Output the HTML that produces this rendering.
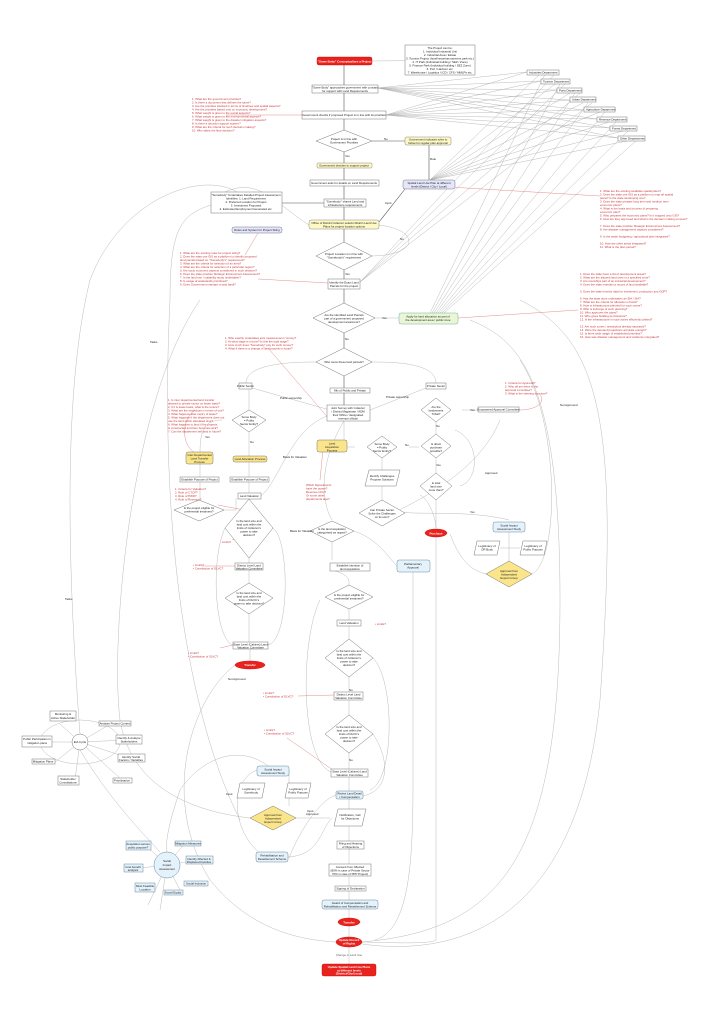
<!DOCTYPE html>
<html><head><meta charset="utf-8"><style>
html,body{margin:0;padding:0;background:#fff}
svg{display:block}
text{font-family:"Liberation Sans",sans-serif;font-size:2.9px;fill:#222}
.r text,text.r{fill:#c8383c}
.b{fill:#fff;stroke:#777;stroke-width:.5}
.y{fill:#fbe58a;stroke:#777;stroke-width:.5}
.ly{fill:#fdf8c4;stroke:#888;stroke-width:.5}
.lb{fill:#e3f2fb;stroke:#6a8aa0;stroke-width:.5}
.lv{fill:#e5e6fa;stroke:#778;stroke-width:.5}
.lg{fill:#eaf7d6;stroke:#7a9;stroke-width:.5}
.red{fill:#e8231e;stroke:#c00;stroke-width:.4}
.l{fill:none;stroke:#aaa;stroke-width:.4}
.d{fill:none;stroke:#555;stroke-width:.6}
.rl{fill:none;stroke:#e07070;stroke-width:.4}
.w{fill:#fff;font-weight:bold}
</style></head><body>
<svg width="722" height="1023" viewBox="0 0 722 1023" xmlns="http://www.w3.org/2000/svg">
<g class="l">
<path d="M527 72L378 88M541 81L378 88M557 90L378 88M570 100L378 88M584 110L378 88M597 119L378 88M610 128L378 88M618 138L378 88"/>
<path d="M527 72L386 115M541 81L386 115M557 90L386 115M570 100L386 115M584 110L386 115M597 119L386 115M610 128L386 115M618 138L386 115"/>
<path d="M540 74L430 180M555 84L430 180M570 93L430 180M583 103L430 180M600 112L430 180M612 121L430 180M623 131L430 180M632 140L430 180"/>
<path d="M545 74L430 313M560 84L432 313M575 93L434 313M588 103L436 313M605 112L438 313M617 121L440 313M628 131L442 313M637 140L444 313"/>
<path d="M555 74L360 282M565 84L360 282M580 93L360 282M592 103L360 282"/>
<path d="M475 60L372 61"/>
</g>
<g>
<rect class="b" x="527" y="70" width="32" height="5"/><text x="529" y="73.5">Industries Department</text>
<rect class="b" x="541" y="79" width="29" height="5"/><text x="543" y="82.5">Tourism Department</text>
<rect class="b" x="557" y="88" width="25" height="5"/><text x="559" y="91.5">Ports Department</text>
<rect class="b" x="570" y="97" width="26" height="5"/><text x="572" y="100.5">Urban Department</text>
<rect class="b" x="584" y="107" width="31" height="5"/><text x="586" y="110.5">Agriculture Department</text>
<rect class="b" x="597" y="117" width="30" height="5"/><text x="599" y="120.5">Revenue Department</text>
<rect class="b" x="610" y="126" width="27" height="5"/><text x="612" y="129.5">Forest Department</text>
<rect class="b" x="618" y="136" width="27" height="5"/><text x="620" y="139.5">Other Departments</text>
</g>
<g class="d">
<path d="M344 65V85M344 93V111M344 119V130M344 152V163M344 168V180M344 185V199M344 207V220M344 229V242M344 270V279M344 289V303M344 333V348M344 376V388M344 393V405"/>
<path d="M372 141H405M429 145V180M282 203H324M405 189L379 222"/>
</g>
<g class="l">
<path d="M344 421V440"/>
<path d="M372 256C420 255 420 230 379 225"/>
<path d="M316 362C300 362 246 362 246 383M372 362C390 362 436 362 436 383"/>
<path d="M252 388L330 410M426 388L370 410"/>
<path d="M375 318H399"/>
<path d="M249 389V410M249 430V457M249 462V477M249 481V494M222 420C205 420 200 430 200 452M200 464V477M200 481V500M224 510H236V498M249 499V500"/>
<path d="M249 506V498M249 558V563M249 570V583M249 614V642M250 648V661"/>
<path d="M273 528C290 540 290 640 268 645M225 528C210 560 215 640 233 645"/>
<path d="M327 416C290 430 280 480 261 496"/>
<path d="M344 421C320 460 320 500 332 520M332 542V560M332 570C350 575 349 580 349 585M349 609V621M349 625V639M349 677V692M349 699V715M349 753V769M349 777V791M349 799V809M349 826V841M349 849V864M349 876V886M349 891V900M349 908V918M349 926V937M349 947V964"/>
<path d="M373 658C395 680 395 780 370 790M373 734C390 760 390 790 363 796M320 600C300 640 300 760 331 772"/>
<path d="M354 531C380 540 390 560 397 566M413 572V780C413 860 410 930 375 940"/>
<path d="M436 418V436M409 447H419M462 410H478M436 456V475M436 497V528M355 447H347M382 457V470M382 486V500M395 512C420 500 480 470 500 420M460 486C480 480 480 440 455 430M436 536V940C430 945 375 942 362 942"/>
<path d="M420 495C430 500 436 520 436 528M400 512C420 515 470 510 509 520M509 532V561M500 548H520M486 574C470 570 460 560 450 534M532 574C560 560 560 420 520 360"/>
<path d="M470 320C520 340 560 380 560 600C560 860 500 930 362 942"/>
<path d="M520 300C600 340 620 420 600 700C580 900 480 960 362 944"/>
<path d="M309 225C270 200 255 170 211 200M211 205C180 215 170 230 170 300C160 500 180 700 240 820M237 192C200 170 120 200 90 280C60 400 70 600 80 734"/>
<path d="M273 818H330M289 770V806M257 770C230 780 230 830 262 855M288 857C320 855 320 830 332 818M289 858C300 830 320 800 336 795"/>
<path d="M235 665C190 700 160 800 210 880C250 930 300 940 336 942"/>
<path d="M250 818C180 810 130 780 120 720C110 640 130 400 200 300"/>
<path d="M273 770C240 740 200 760 180 790C170 820 165 840 167 852"/>
<path d="M80 750C110 800 140 830 160 852"/>
</g>
<g class="l">
<ellipse cx="80" cy="742" rx="40" ry="22"/>
<path d="M80 742L60 724M80 742L112 723M80 742L128 740M80 742L132 759M80 742L122 780M80 742L75 780M80 742L55 762M80 742L30 742"/>
<path d="M167 865L145 845M167 865L185 843M167 865L200 860M167 865L180 890M167 865L160 910M167 865L148 905M167 865L140 868"/>
</g>
<circle cx="80" cy="742" r="8" class="b"/><text x="80" y="743" text-anchor="middle">EIA Cycle</text>
<g>
<rect class="b" x="50" y="711" width="26" height="10"/><text x="63" y="715" text-anchor="middle">Monitoring &amp;</text><text x="63" y="719" text-anchor="middle">Active Stakeholder</text>
<rect class="b" x="99" y="721" width="32" height="5"/><text x="115" y="724.5" text-anchor="middle">Analyse Project Context</text>
<rect class="b" x="116" y="735" width="26" height="9"/><text x="129" y="739" text-anchor="middle">Identify &amp; Analyse</text><text x="129" y="742.5" text-anchor="middle">Stakeholders</text>
<rect class="b" x="22" y="736" width="30" height="11"/><text x="37" y="740" text-anchor="middle">Public Participation in</text><text x="37" y="744" text-anchor="middle">mitigation plans</text>
<rect class="b" x="118" y="754" width="27" height="8"/><text x="131" y="758" text-anchor="middle">Identify Social</text><text x="131" y="761" text-anchor="middle">Factors / Variables</text>
<rect class="b" x="32" y="759" width="23" height="5"/><text x="43" y="762.5" text-anchor="middle">Mitigation Plans</text>
<rect class="b" x="58" y="776" width="21" height="9"/><text x="68" y="780" text-anchor="middle">Stakeholder</text><text x="68" y="783.5" text-anchor="middle">Consultations</text>
<rect class="b" x="113" y="778" width="19" height="5"/><text x="122" y="781.5" text-anchor="middle">Prioritisation</text>
</g>
<circle cx="167" cy="865" r="13" class="lb"/><text x="167" y="862" text-anchor="middle">Social</text><text x="167" y="866" text-anchor="middle">Impact</text><text x="167" y="870" text-anchor="middle">Assessment</text>
<g>
<rect class="lb" x="126" y="841" width="25" height="9"/><text x="138" y="845" text-anchor="middle">Acquisition serves</text><text x="138" y="848.5" text-anchor="middle">public purpose?</text>
<rect class="lb" x="175" y="841" width="26" height="5"/><text x="188" y="844.5" text-anchor="middle">Mitigation Measures</text>
<rect class="lb" x="186" y="856" width="27" height="8"/><text x="199" y="860" text-anchor="middle">Identify Affected &amp;</text><text x="199" y="863" text-anchor="middle">Displaced Families</text>
<rect class="lb" x="124" y="864" width="19" height="8"/><text x="133" y="868" text-anchor="middle">Cost benefit</text><text x="133" y="871" text-anchor="middle">analysis</text>
<rect class="lb" x="184" y="881" width="24" height="5"/><text x="196" y="884.5" text-anchor="middle">Social Inclusion</text>
<rect class="lb" x="135" y="883" width="20" height="9"/><text x="145" y="887" text-anchor="middle">Most Feasible</text><text x="145" y="890.5" text-anchor="middle">Location</text>
<rect class="lb" x="164" y="890" width="19" height="5"/><text x="173" y="893.5" text-anchor="middle">Social Equity</text>
</g>
<g class="rl">
<path d="M302 115L226 115M432 186L600 196M458 318L578 310M328 283L258 279M330 420L268 348M244 510L218 505M249 535L232 540M235 566L202 566M233 645L220 648M334 695L298 696M333 770L287 738M323 449L320 480M519 410C540 410 545 400 540 395M258 233L245 255M203 456C180 452 180 420 195 410"/>
</g>
<rect class="red" x="317" y="57" width="55" height="8" rx="2"/><text class="w" x="344.5" y="62.3" text-anchor="middle" style="fill:#fff">"Some Body" Conceptualises a Project</text>
<rect class="b" x="405" y="45" width="70" height="30"/>
<g text-anchor="middle"><text x="440" y="49">The Project can be:</text><text x="440" y="52.5">1. Individual Industrial Unit</text><text x="440" y="56">2. Industrial Area / Estate</text><text x="440" y="59.5">3. Tourism Project (hotel/resort/amusement park etc.)</text><text x="440" y="63">4. IT Park (Individual building / SEZ / Zone)</text><text x="440" y="66.5">5. Finance Park (Individual building / SEZ Zone)</text><text x="440" y="70">6. Port / Harbour etc.</text><text x="440" y="73.5">7. Warehouse / Logistics / ICD / CFS / MMLPs etc.</text></g>
<rect class="b" x="312" y="85" width="66" height="8"/><text x="345" y="88.5" text-anchor="middle">"Some Body" approaches government with concept</text><text x="345" y="91.8" text-anchor="middle">for support with Land Requirements</text>
<rect class="b" x="302" y="111" width="84" height="8"/><text x="344" y="116" text-anchor="middle">Government checks if proposed Project is in line with its priorities</text>
<polygon class="b" points="344,130 372,141 344,152 316,141"/><text x="344" y="140" text-anchor="middle">Project is in line with</text><text x="344" y="143.5" text-anchor="middle">Government Priorities</text>
<rect class="ly" x="405" y="137" width="46" height="8" rx="1.5"/><text x="428" y="140.5" text-anchor="middle">Government indicates rules to</text><text x="428" y="143.8" text-anchor="middle">follow for regular plan approval</text>
<rect class="ly" x="317" y="163" width="55" height="5" rx="1"/><text x="344" y="166.5" text-anchor="middle">Government decides to support project</text>
<rect class="b" x="310" y="180" width="69" height="6"/><text x="344" y="184" text-anchor="middle">Government asks for details on Land Requirements</text>
<rect class="lv" x="403" y="180" width="52" height="9" rx="2"/><text x="429" y="184" text-anchor="middle">Spatial Land Use Plan at different</text><text x="429" y="187.5" text-anchor="middle">levels (District / City / Local)</text>
<rect class="b" x="211" y="192" width="71" height="21"/>
<g text-anchor="middle"><text x="246" y="196">"Somebody" Undertakes Detailed Project Assessment</text><text x="246" y="199.5">Identifies: 1. Land Requirement</text><text x="246" y="203">2. Preferred Location for Project</text><text x="246" y="206.5">3. Investment Proposed</text><text x="246" y="210">4. Estimated Employment Generated etc.</text></g>
<rect class="b" x="324" y="199" width="42" height="8"/><text x="345" y="202.5" text-anchor="middle">"Somebody" shares Land and</text><text x="345" y="206" text-anchor="middle">infrastructure requirements</text>
<rect class="ly" x="309" y="220" width="70" height="9" rx="2"/><text x="344" y="224" text-anchor="middle">Office of District Collector selects District Land Use</text><text x="344" y="227.5" text-anchor="middle">Plans for project location options</text>
<rect class="lv" x="232" y="227" width="50" height="6" rx="2"/><text x="257" y="231" text-anchor="middle">Rules and System for Project Siting</text>
<polygon class="b" points="344,242 372,256 344,270 316,256"/><text x="344" y="255" text-anchor="middle">Project Location is in line with</text><text x="344" y="258.5" text-anchor="middle">"Somebody's" requirement</text>
<rect class="b" x="328" y="279" width="32" height="10"/><text x="344" y="283.5" text-anchor="middle">Identify the Exact Land</text><text x="344" y="287" text-anchor="middle">Parcels for the project</text>
<polygon class="b" points="344,303 375,318 344,333 313,318"/><text x="344" y="316" text-anchor="middle">Are the identified Land Parcels</text><text x="344" y="319.5" text-anchor="middle">part of a government proposed</text><text x="344" y="323" text-anchor="middle">development area/zone?</text>
<rect class="lg" x="399" y="313" width="59" height="11" rx="2"/><text x="428" y="317.5" text-anchor="middle">Apply for land allocation as part of</text><text x="428" y="321" text-anchor="middle">the development area / public zone</text>
<polygon class="b" points="344,348 372,362 344,376 316,362"/><text x="344" y="363" text-anchor="middle">Who owns these land parcels?</text>
<rect class="b" x="239" y="383" width="13" height="6"/><text x="245.5" y="387" text-anchor="middle">Public Sector</text>
<rect class="b" x="330" y="388" width="40" height="5"/><text x="350" y="391.5" text-anchor="middle">Mix of Public and Private</text>
<rect class="b" x="426" y="383" width="20" height="6"/><text x="436" y="387" text-anchor="middle">Private Sector</text>
<rect class="b" x="327" y="405" width="43" height="16"/><g text-anchor="middle"><text x="348" y="409">Joint Survey with Collector</text><text x="348" y="412.5">/ District Magistrate / ADM</text><text x="348" y="416">their Office / designated</text><text x="348" y="419.5">revenue official</text></g>
<polygon class="b" points="249,410 266,420 249,432 232,420"/><text x="249" y="418" text-anchor="middle">Some Body</text><text x="249" y="421.5" text-anchor="middle">= Public</text><text x="249" y="425" text-anchor="middle">Sector Entity?</text>
<rect class="y" x="186" y="452" width="27" height="12" rx="2"/><text x="199.5" y="456" text-anchor="middle">Inter-Departmental</text><text x="199.5" y="459.5" text-anchor="middle">Land Transfer</text><text x="199.5" y="463" text-anchor="middle">Process</text>
<rect class="y" x="233" y="456" width="34" height="6" rx="2"/><text x="250" y="460" text-anchor="middle">Land Allocation Process</text>
<rect class="b" x="180" y="477" width="39" height="5"/><text x="199.5" y="480.5" text-anchor="middle">Establish Purpose of Project</text>
<rect class="b" x="230" y="477" width="39" height="5"/><text x="249.5" y="480.5" text-anchor="middle">Establish Purpose of Project</text>
<rect class="b" x="238" y="493" width="23" height="6"/><text x="249.5" y="497" text-anchor="middle">Land Valuation</text>
<polygon class="b" points="199,500 224,510 199,521 174,510"/><text x="199" y="509" text-anchor="middle">Is the project eligible for</text><text x="199" y="512.5" text-anchor="middle">preferential treatment?</text>
<polygon class="b" points="249,499 273,528 249,558 225,528"/><g text-anchor="middle"><text x="249" y="522">Is the land size and</text><text x="249" y="525.5">land cost within the</text><text x="249" y="529">limits of Collector's</text><text x="249" y="532.5">power to take</text><text x="249" y="536">decision?</text></g>
<rect class="b" x="235" y="563" width="28" height="7"/><text x="249" y="566.3" text-anchor="middle">District Level Land</text><text x="249" y="569.3" text-anchor="middle">Valuation Committee</text>
<polygon class="b" points="249,583 273,598 249,614 225,598"/><g text-anchor="middle"><text x="249" y="594">Is the land size and</text><text x="249" y="597.5">land cost within the</text><text x="249" y="601">limits of DLVC's</text><text x="249" y="604.5">power to take decision?</text></g>
<rect class="b" x="233" y="642" width="35" height="7"/><text x="250.5" y="645.3" text-anchor="middle">State Level (Cabinet) Land</text><text x="250.5" y="648.3" text-anchor="middle">Valuation Committee</text>
<ellipse class="red" cx="250" cy="665" rx="15" ry="4"/><text class="w" x="250" y="666.2" text-anchor="middle" style="fill:#fff">Transfer</text>
<rect class="y" x="317" y="440" width="30" height="12" rx="2"/><text x="332" y="444.5" text-anchor="middle">Land</text><text x="332" y="448" text-anchor="middle">Acquisition</text><text x="332" y="451.5" text-anchor="middle">Process</text>
<polygon class="b" points="382,436 397,447 382,458 367,447"/><text x="382" y="445" text-anchor="middle">Some Body</text><text x="382" y="448.5" text-anchor="middle">= Public</text><text x="382" y="452" text-anchor="middle">Sector Entity?</text>
<polygon class="b" points="436,398 451,410 436,422 421,410"/><text x="436" y="408" text-anchor="middle">Are the</text><text x="436" y="411.5" text-anchor="middle">landowners</text><text x="436" y="415" text-anchor="middle">Tribal?</text>
<rect class="b" x="478" y="407" width="41" height="5"/><text x="498.5" y="410.5" text-anchor="middle">Empowered Approval Committee</text>
<polygon class="b" points="436,434 451,446 436,458 421,446"/><text x="436" y="445" text-anchor="middle">Is direct</text><text x="436" y="448.5" text-anchor="middle">purchase</text><text x="436" y="452" text-anchor="middle">possible?</text>
<polygon class="b" points="369,470 400,470 396,486 365,486"/><text x="382" y="477" text-anchor="middle">Identify Challenges</text><text x="382" y="480.5" text-anchor="middle">Propose Solutions</text>
<polygon class="b" points="436,473 452,486 436,500 420,486"/><text x="436" y="484" text-anchor="middle">Is total</text><text x="436" y="487.5" text-anchor="middle">land size</text><text x="436" y="491" text-anchor="middle">more than?</text>
<polygon class="b" points="382,500 405,513 382,526 359,513"/><text x="382" y="511" text-anchor="middle">Can Private Sector</text><text x="382" y="514.5" text-anchor="middle">Solve the Challenges</text><text x="382" y="518" text-anchor="middle">on its own?</text>
<ellipse class="red" cx="436" cy="533" rx="11" ry="4"/><text class="w" x="436" y="534.3" text-anchor="middle" style="fill:#fff">Purchase</text>
<rect class="lb" x="493" y="522" width="32" height="10" rx="2"/><text x="509" y="526.3" text-anchor="middle">Social Impact</text><text x="509" y="529.8" text-anchor="middle">Assessment Study</text>
<polygon class="b" points="477,541 500,541 497,555 474,555"/><text x="487" y="547" text-anchor="middle">Legitimacy of</text><text x="487" y="550.5" text-anchor="middle">OR Body</text>
<polygon class="b" points="523,541 547,541 544,555 520,555"/><text x="533" y="547" text-anchor="middle">Legitimacy of</text><text x="533" y="550.5" text-anchor="middle">Public Purpose</text>
<polygon class="y" points="509,561 532,574 509,587 486,574"/><text x="509" y="572" text-anchor="middle">Approval from</text><text x="509" y="575.5" text-anchor="middle">Independent</text><text x="509" y="579" text-anchor="middle">Expert Group</text>
<polygon class="b" points="332,521 354,531 332,542 310,531"/><text x="332" y="530" text-anchor="middle">Is the land acquisition</text><text x="332" y="533.5" text-anchor="middle">categorised as urgent?</text>
<rect class="lb" x="397" y="560" width="33" height="12" rx="2"/><text x="413" y="565" text-anchor="middle">Parliamentary</text><text x="413" y="568.5" text-anchor="middle">Approval</text>
<rect class="b" x="330" y="563" width="40" height="8"/><text x="350" y="566.5" text-anchor="middle">Establish intention of</text><text x="350" y="570" text-anchor="middle">land acquisition</text>
<polygon class="b" points="349,585 373,597 349,609 325,597"/><text x="349" y="596" text-anchor="middle">Is the project eligible for</text><text x="349" y="599.5" text-anchor="middle">preferential treatment?</text>
<rect class="b" x="337" y="620" width="24" height="6"/><text x="349" y="624" text-anchor="middle">Land Valuation</text>
<polygon class="b" points="349,639 373,658 349,677 325,658"/><g text-anchor="middle"><text x="349" y="652">Is the land size and</text><text x="349" y="655.5">land cost within the</text><text x="349" y="659">limits of Collector's</text><text x="349" y="662.5">power to take</text><text x="349" y="666">decision?</text></g>
<rect class="b" x="334" y="692" width="29" height="8"/><text x="348.5" y="695.5" text-anchor="middle">District Level Land</text><text x="348.5" y="699" text-anchor="middle">Valuation Committee</text>
<polygon class="b" points="349,715 373,734 349,753 325,734"/><g text-anchor="middle"><text x="349" y="728">Is the land size and</text><text x="349" y="731.5">land cost within the</text><text x="349" y="735">limits of DLVC's</text><text x="349" y="738.5">power to take</text><text x="349" y="742">decision?</text></g>
<rect class="b" x="331" y="769" width="37" height="8"/><text x="349.5" y="772.5" text-anchor="middle">State Level (Cabinet) Land</text><text x="349.5" y="776" text-anchor="middle">Valuation Committee</text>
<rect class="lb" x="336" y="791" width="27" height="8" rx="1.5"/><text x="349.5" y="794.5" text-anchor="middle">Revise Land Detail</text><text x="349.5" y="798" text-anchor="middle">/ Compensation</text>
<polygon class="b" points="338,809 366,809 362,826 334,826"/><text x="350" y="816" text-anchor="middle">Notification, Call</text><text x="350" y="819.5" text-anchor="middle">for Objections</text>
<rect class="b" x="337" y="841" width="27" height="8"/><text x="350.5" y="844.5" text-anchor="middle">Filing and Hearing</text><text x="350.5" y="848" text-anchor="middle">of Objections</text>
<rect class="b" x="329" y="864" width="42" height="12"/><text x="350" y="868" text-anchor="middle">Consent from Affected</text><text x="350" y="871.5" text-anchor="middle">(80% in case of Private Sector</text><text x="350" y="875" text-anchor="middle">70% in case of PPP Project)</text>
<rect class="b" x="335" y="886" width="31" height="5"/><text x="350.5" y="889.5" text-anchor="middle">Signing of Declaration</text>
<rect class="lb" x="322" y="900" width="56" height="9" rx="2"/><text x="350" y="904" text-anchor="middle">Award of Compensation and</text><text x="350" y="907.5" text-anchor="middle">Rehabilitation and Resettlement Scheme</text>
<ellipse class="red" cx="349" cy="922" rx="11" ry="4"/><text class="w" x="349" y="923.3" text-anchor="middle" style="fill:#fff">Transfer</text>
<ellipse class="red" cx="349" cy="942" rx="13" ry="5"/><text class="w" x="349" y="941" text-anchor="middle" style="fill:#fff">Update Record</text><text class="w" x="349" y="944.5" text-anchor="middle" style="fill:#fff">of Rights</text>
<text x="349" y="956" text-anchor="middle" style="fill:#666">Change in Land Use</text>
<rect class="red" x="322" y="964" width="54" height="12" rx="2"/><text class="w" x="349" y="968" text-anchor="middle" style="fill:#fff">Update Spatial Land Use Plans</text><text class="w" x="349" y="971.3" text-anchor="middle" style="fill:#fff">at different levels</text><text class="w" x="349" y="974.6" text-anchor="middle" style="fill:#fff">(District/City/Local)</text>
<rect class="lb" x="257" y="766" width="32" height="10" rx="2"/><text x="273" y="770.3" text-anchor="middle">Social Impact</text><text x="273" y="773.8" text-anchor="middle">Assessment Study</text>
<polygon class="b" points="240,783 265,783 262,798 237,798"/><text x="251" y="790" text-anchor="middle">Legitimacy of</text><text x="251" y="793.5" text-anchor="middle">Somebody</text>
<polygon class="b" points="288,783 311,783 308,798 285,798"/><text x="298" y="790" text-anchor="middle">Legitimacy of</text><text x="298" y="793.5" text-anchor="middle">Public Purpose</text>
<polygon class="y" points="273,806 296,818 273,830 250,818"/><text x="273" y="816" text-anchor="middle">Approval from</text><text x="273" y="819.5" text-anchor="middle">Independent</text><text x="273" y="823" text-anchor="middle">Expert Group</text>
<rect class="lb" x="256" y="852" width="32" height="10" rx="2"/><text x="272" y="856.3" text-anchor="middle">Rehabilitation and</text><text x="272" y="859.8" text-anchor="middle">Resettlement Scheme</text>
<g class="r">
<text x="192" y="100">1. What are the government priorities?</text><text x="192" y="103.5">2. Is there a document that defines the same?</text><text x="192" y="107">3. Are the priorities stacked in terms of timelines and spatial aspects?</text><text x="192" y="110.5">4. Are the priorities based only on economic development?</text><text x="192" y="114">5. What weight is given to the social aspects?</text><text x="192" y="117.5">6. What weight is given to the environmental aspects?</text><text x="192" y="121">7. What weight is given to the disaster mitigation aspects?</text><text x="192" y="124.5">8. Is there a decision support system?</text><text x="192" y="128">9. What are the criteria for such decision making?</text><text x="192" y="131.5">10. Who takes the final decision?</text>
<text x="180" y="254">1. What are the existing rules for project siting?</text><text x="180" y="257.5">2. Does the state use GIS as a platform to identify proposed</text><text x="180" y="261">land parcels based on "Somebody's" requirement?</text><text x="180" y="264.5">3. What are the criteria for selection of an area?</text><text x="180" y="268">4. What are the criteria for selection of a particular region?</text><text x="180" y="271.5">5. Are socio economic aspects considered in such decision?</text><text x="180" y="275">6. Does the state practise Strategic Environment Assessment?</text><text x="180" y="278.5">7. Is the land use / suitability study undertaken?</text><text x="180" y="282">8. Is usage of wastelands prioritised?</text><text x="180" y="285.5">9. Does Government maintain a land bank?</text>
<text x="225" y="339">1. Who exactly undertakes joint measurement / survey?</text><text x="225" y="342.5">2. At what stage is it done? Is this the right stage?</text><text x="225" y="346">3. How much does "Somebody" pay for such survey?</text><text x="225" y="349.5">4. What if there is a change of land parcels in future?</text>
<text x="600" y="192">1. What are the existing available spatial plans?</text><text x="600" y="195.5">2. Does the state use GIS as a platform to map all spatial</text><text x="600" y="199">plans? Is the state developing one?</text><text x="600" y="202.5">3. Does the state prepare long term and medium term</text><text x="600" y="206">economic plans?</text><text x="600" y="209.5">4. What is the basis and process of preparing</text><text x="600" y="213">economic plan?</text><text x="600" y="216.5">5. Who prepares the economic plans? Is it mapped onto GIS?</text><text x="600" y="220">6. How are they approved and what is the decision making process?</text><text x="600" y="227">7. Does the state practise Strategic Environment Assessment?</text><text x="600" y="230.5">8. Are disaster management aspects considered?</text><text x="600" y="237.5">9. Is the water budgeting / agricultural plan integrated?</text><text x="600" y="244.5">10. How are other areas integrated?</text><text x="600" y="248">11. What is the plan period?</text>
<text x="580" y="275">1. Does the state have a list of development areas?</text><text x="580" y="278.5">2. What are the allowed land uses in a specified zone?</text><text x="580" y="282">3. Are townships part of an industrial development?</text><text x="580" y="285.5">4. Does the state maintain a record of land available?</text><text x="580" y="292.5">5. Does the state monitor data for investment, production and GDP?</text><text x="580" y="299.5">6. Has the state done undertaken an EIA / SIA?</text><text x="580" y="303">7. What are the criteria for allocation of land?</text><text x="580" y="306.5">8. How is infrastructure planned for such zones?</text><text x="580" y="310">9. Who is incharge of such planning?</text><text x="580" y="313.5">10. Who approves the plans?</text><text x="580" y="317">11. Who gives building permissions?</text><text x="580" y="320.5">12. Is the infrastructure in such zones efficiently utilised?</text><text x="580" y="327.5">13. Are such zones / areas/plots already saturated?</text><text x="580" y="331">14. Were the demand projections accurate enough?</text><text x="580" y="334.5">15. Is there wide usage of established priorities?</text><text x="580" y="338">16. How was disaster management and resilience integrated?</text>
<text x="505" y="384">1. Criteria for Approval?</text><text x="505" y="387.5">2. Who all are there in the</text><text x="505" y="391">approval committee?</text><text x="505" y="394.5">3. What is the steering structure?</text>
<text x="168" y="401">1. Is inter departmental land transfer</text><text x="168" y="404.5">allowed to private sector on lease basis?</text><text x="168" y="408">2. If it is lease basis, what is the tenure?</text><text x="168" y="411.5">3. What are the restrictions in terms of use?</text><text x="168" y="415">4. What happens after expiry of lease?</text><text x="168" y="418.5">5. What happens if the department does not</text><text x="168" y="422">use the land within stipulated time?</text><text x="168" y="425.5">6. What happens to land if the projects</text><text x="168" y="429">is constructed and then becomes sick?</text><text x="168" y="432.5">7. Can the department sell land in future?</text>
<text x="175" y="490">1. Criteria for Valuation?</text><text x="175" y="493.5">2. Role of CTCP?</text><text x="175" y="497">3. Role of PWD?</text><text x="175" y="500.5">4. Role of Revenue?</text>
<text x="222" y="543">Limits?</text>
<text x="193" y="566">• Limits?</text><text x="193" y="569.5">• Constitution of DLVC?</text>
<text x="188" y="654">• Limits?</text><text x="188" y="657.5">• Constitution of SLVC?</text>
<text x="306" y="486">Which Departments</text><text x="306" y="489.5">have the power?</text><text x="306" y="493">Revenue Only?</text><text x="306" y="496.5">Or some other</text><text x="306" y="500">departments also?</text>
<text x="375" y="625">• Limits?</text>
<text x="263" y="694">• Limits?</text><text x="263" y="697.5">• Constitution of DLVC?</text>
<text x="264" y="731">• Limits?</text><text x="264" y="734.5">• Constitution of SLVC?</text>
</g>
<g style="fill:#555">
<text x="345" y="157">Yes</text><text x="384" y="140">No</text><text x="430" y="160">Rule</text><text x="385" y="204">Input</text><text x="400" y="240">No</text><text x="345" y="275">Yes</text><text x="345" y="340">No</text><text x="382" y="319">Yes</text>
<text x="280" y="399">Public ownership</text><text x="386" y="398">Private ownership</text><text x="250" y="443">No</text><text x="205" y="438">Yes</text><text x="283" y="458">Basis for Valuation</text><text x="290" y="532">Basis for Valuation</text>
<text x="436" y="427">No</text><text x="470" y="411">Yes</text><text x="405" y="446">No</text><text x="436" y="466">Yes</text><text x="485" y="474">Approved</text><text x="470" y="513">Yes</text><text x="560" y="406">Not Approved</text><text x="228" y="680">Not Approved</text><text x="65" y="600">Tasks</text><text x="150" y="343">Tasks</text>
<text x="226" y="795">Input</text><text x="306" y="815">Approved</text><text x="307" y="812">Input</text><text x="349" y="691">No</text><text x="349" y="761">No</text>
</g>
</svg>
</body></html>
